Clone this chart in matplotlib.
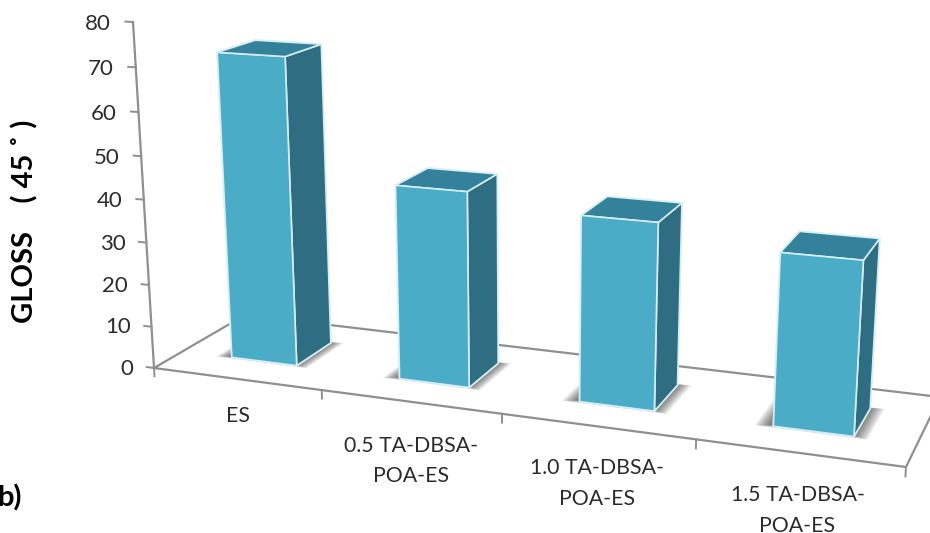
import numpy as np
import matplotlib
matplotlib.use('Agg')
import matplotlib.pyplot as plt
from mpl_toolkits.mplot3d.art3d import Poly3DCollection

categories = ['ES', '0.5 TA-DBSA-\nPOA-ES', '1.0 TA-DBSA-\nPOA-ES', '1.5 TA-DBSA-\nPOA-ES']
gloss = [72, 45, 42, 38]
yticks = [0, 10, 20, 30, 40, 50, 60, 70, 80]
label_drop = [-6.5, -8, -7.2, -7.1]

plt.rcParams['font.family'] = ['Lato', 'DejaVu Sans']

W, H = 930, 533
SPAN = 600                # half size of the square 3d panel, pixels
FRONT, SIDE, TOP = '#4bacc8', '#2f6e82', '#33819b'
AXIS = '#8f8f8f'
TEXT = '#2b2b2b'
D0, D1 = 0.30, 0.71       # bar extent across the floor depth
BAR = 0.395               # bar width in category units


def camera():
    # solve the 3x4 camera from floor corners, axis top and vertical vanishing point
    pairs = [((0, 0, 0, 1), (154, 368)), ((4, 0, 0, 1), (906, 467)),
             ((0, 1, 0, 1), (245, 315)), ((4, 1, 0, 1), (940, 397)),
             ((0, 0, 80, 1), (133, 22)), ((0, 0, 1, 0), (528, 6535))]
    rows = []
    for X, (px, py) in pairs:
        X = np.array(X, float)
        u = (px - W / 2) / SPAN
        v = (H / 2 - py) / SPAN
        rows.append(np.r_[X, 0 * X, -u * X])
        rows.append(np.r_[0 * X, X, -v * X])
    P = np.linalg.svd(np.array(rows))[2][-1].reshape(3, 4)
    P = P / P[2, 3]
    # depth row: negative and growing with distance, which is what mplot3d sorts and clips on
    return np.vstack([P[0], P[1], [0, 0, 0, -1], P[2]])


fig = plt.figure(figsize=(W / 100, H / 100), dpi=100)
rect = [(W / 2 - SPAN) / W, (H / 2 - SPAN) / H, 2 * SPAN / W, 2 * SPAN / H]
ax = fig.add_axes(rect, projection='3d', computed_zorder=False)
ax.set_xticks([])
ax.set_yticks([])
ax.set_zticks([])
ax.set_axis_off()
for a3 in (ax.xaxis, ax.yaxis, ax.zaxis):
    a3.label.set_visible(False)
    a3.get_offset_text().set_visible(False)
    a3.set_visible(False)
M = camera()
ax.get_proj = lambda: M
ax.viewLim.intervalx = (-1, 1)
ax.viewLim.intervaly = (-1, 1)

# floor outline
ax.plot([0, 4, 4, 0, 0], [0, 0, 1, 1, 0], [0, 0, 0, 0, 0], color=AXIS, lw=1.6, zorder=1)
# value axis and ticks
ax.plot([0, 0], [0, 0], [0, 80], color=AXIS, lw=1.6, zorder=1)
for v in yticks:
    ax.plot([-0.045, 0], [0, 0], [v, v], color=AXIS, lw=1.4, zorder=1)
    ax.text(-0.13, 0, v - 0.8, str(v), ha='right', va='center', fontsize=16, color=TEXT)
for i in range(5):
    ax.plot([i, i], [0, 0], [0, -2], color=AXIS, lw=1.4, zorder=1)

xs = np.arange(len(gloss)) + 0.5025 - BAR / 2

# soft contact shadows
for x in xs:
    for k in range(16):
        e = 0.005 * (16 - k)
        a, b = x - 0.01 - e, x + BAR - 0.01 + e
        c, d = D0 + 0.02 - e * 0.5, D1 + e * 0.25
        verts = [[(a, c, 0), (b, c, 0), (b, d, 0), (a, d, 0)]]
        ax.add_collection3d(Poly3DCollection(verts, facecolors=(0, 0, 0, 0.045),
                                             edgecolors='none', zorder=2))

faces = [SIDE, TOP, FRONT, SIDE, FRONT, SIDE] * len(gloss)
ax.bar3d(xs, [D0] * 4, [0] * 4, [BAR] * 4, [D1 - D0] * 4, gloss, color=faces, shade=False,
         edgecolor='#d6eff4', linewidth=1.2, zorder=3)

for i, name in enumerate(categories):
    ax.text(i + 0.5, 0, label_drop[i], name, ha='center', va='top', fontsize=15.3, color=TEXT,
            linespacing=1.65)

fig.text(25 / W, 1 - 221 / H, 'GLOSS    ( 45 ˚ )', rotation=90, ha='center', va='center',
         fontsize=21, fontweight='bold', color='black')
fig.text(22 / W, 1 - 498 / H, 'b)', ha='right', va='center', fontsize=21,
         fontweight='bold', color='black')

fig.savefig('out.png', dpi=100)
